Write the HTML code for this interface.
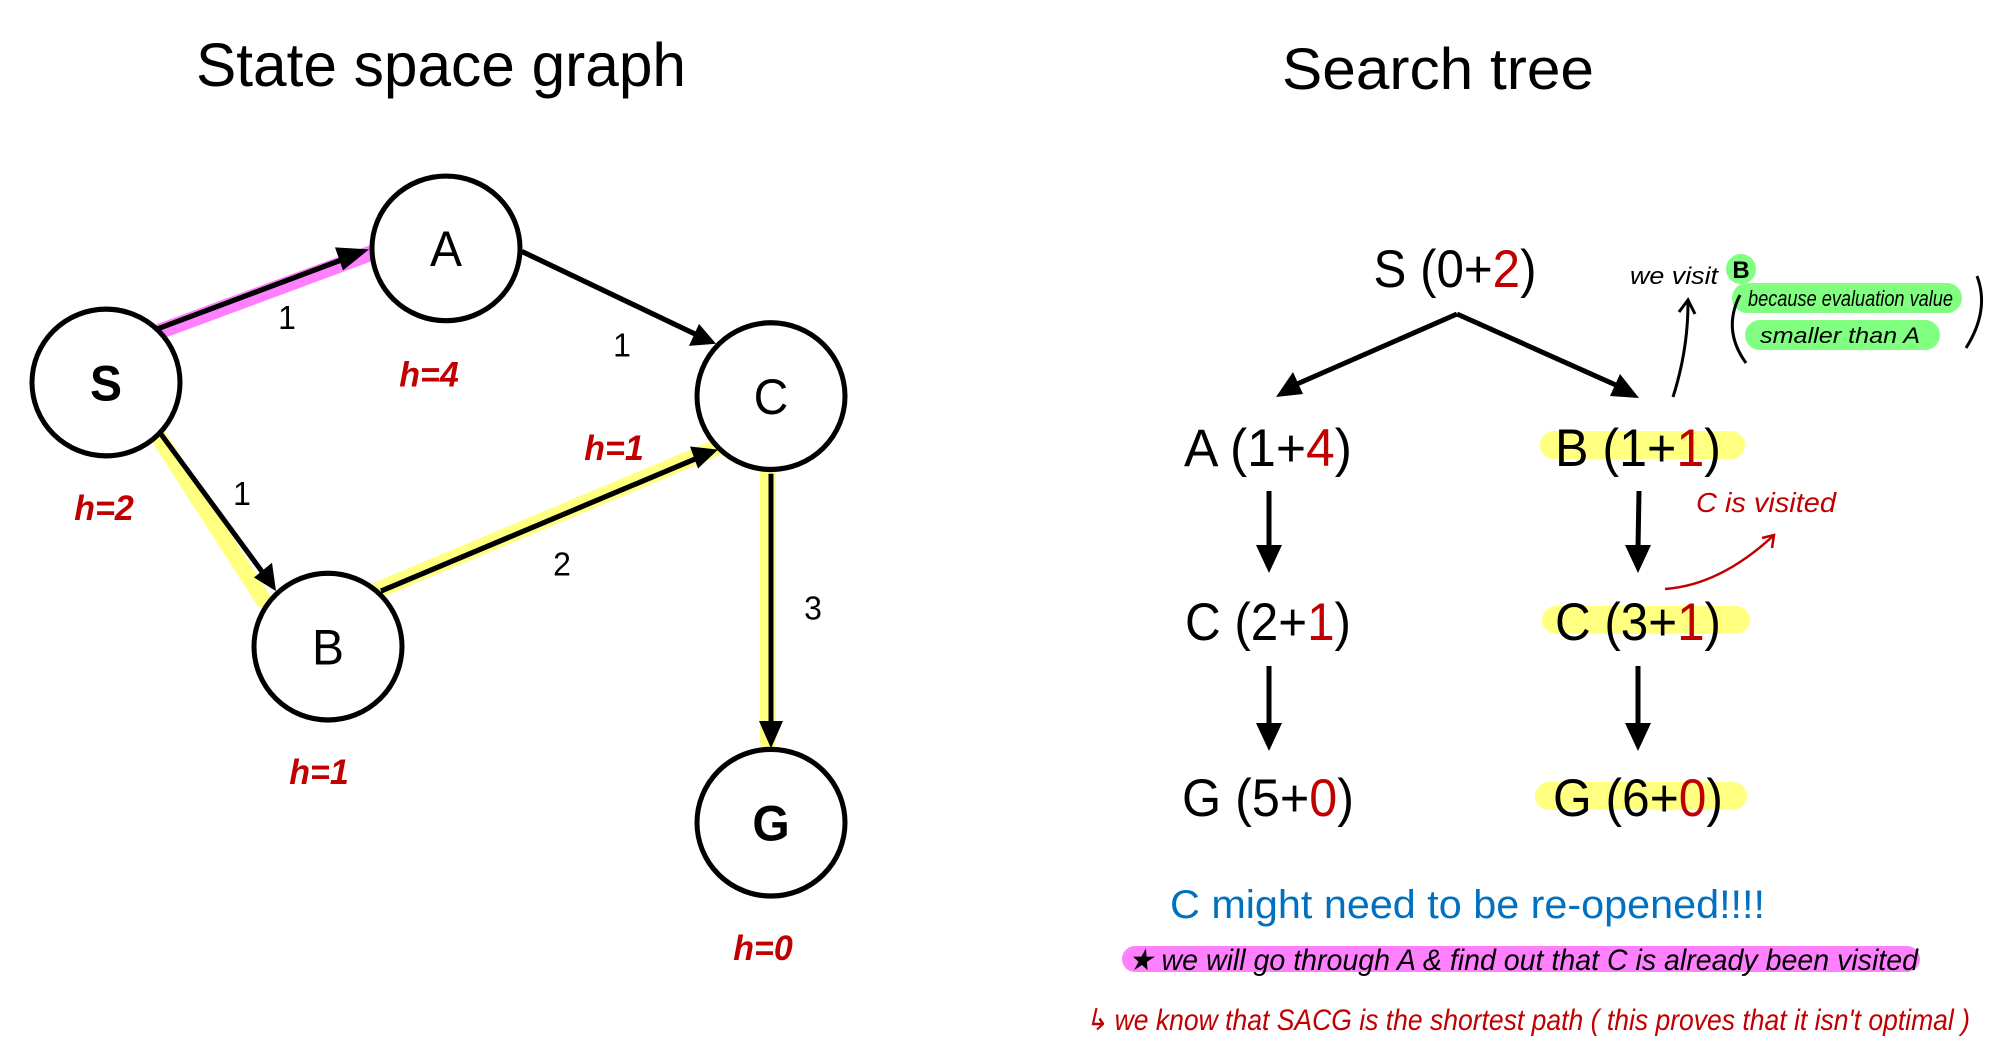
<!DOCTYPE html>
<html><head><meta charset="utf-8"><style>
html,body{margin:0;padding:0;background:#fff;}
svg{display:block;}
</style></head><body>
<svg width="2000" height="1054" viewBox="0 0 2000 1054" xmlns="http://www.w3.org/2000/svg" font-family="Liberation Sans, sans-serif">
<g transform="scale(1,1.048)">
<text x="441" y="82" font-size="58" text-anchor="middle" textLength="490" lengthAdjust="spacingAndGlyphs">State space graph</text>

<line x1="152" y1="319" x2="381" y2="238" stroke="#ff80ff" stroke-width="15" stroke-linecap="round"/>
<line x1="154" y1="410" x2="263" y2="572" stroke="#ffff80" stroke-width="16" stroke-linecap="round"/>
<line x1="378" y1="563" x2="722" y2="425" stroke="#ffff80" stroke-width="16" stroke-linecap="round"/>
<line x1="768" y1="445" x2="768" y2="708" stroke="#ffff80" stroke-width="16" stroke-linecap="round"/>

<g stroke="#000" stroke-width="5" fill="none">
<line x1="157" y1="314" x2="350" y2="245"/>
<line x1="522" y1="240" x2="700" y2="321"/>
<line x1="160" y1="413" x2="264" y2="548"/>
<line x1="381" y1="564" x2="700" y2="436"/>
<line x1="771" y1="452" x2="771" y2="690"/>
</g>
<g fill="#000">
<polygon points="369,238 343,258 335,236"/>
<polygon points="716,328 689,330 699,309"/>
<polygon points="276,564 254,551 272,537"/>
<polygon points="718,429 698,447 690,426"/>
<polygon points="771,714 759,688 783,688"/>
</g>

<g fill="#fff" stroke="#000" stroke-width="5">
<ellipse cx="106" cy="365" rx="74" ry="70"/>
<ellipse cx="446" cy="237" rx="74" ry="69"/>
<ellipse cx="771" cy="378" rx="74" ry="70"/>
<ellipse cx="328" cy="617" rx="74" ry="70"/>
<ellipse cx="771" cy="785" rx="74" ry="70"/>
</g>
<g font-size="48" text-anchor="middle">
<text x="106" y="382" font-weight="bold">S</text>
<text x="446" y="254">A</text>
<text x="771" y="395">C</text>
<text x="328" y="634">B</text>
<text x="771" y="802" font-weight="bold">G</text>
</g>
<g font-size="34" font-weight="bold" font-style="italic" fill="#c00000" text-anchor="middle">
<text x="429" y="369">h=4</text>
<text x="104" y="496">h=2</text>
<text x="319" y="748">h=1</text>
<text x="614" y="439">h=1</text>
<text x="763" y="916">h=0</text>
</g>
<g font-size="32" text-anchor="middle">
<text x="287" y="314">1</text>
<text x="622" y="340">1</text>
<text x="242" y="482">1</text>
<text x="562" y="549">2</text>
<text x="813" y="591">3</text>
</g>
</g>

<text x="1438" y="89" font-size="58" text-anchor="middle" textLength="312" lengthAdjust="spacingAndGlyphs">Search tree</text>

<g fill="#ffff80">
<rect x="1540" y="431" width="205" height="28" rx="14"/>
<rect x="1542" y="606" width="208" height="28" rx="14"/>
<rect x="1535" y="782" width="212" height="28" rx="14"/>
</g>
<g stroke="#000" stroke-width="5" fill="none">
<line x1="1457" y1="314" x2="1297" y2="384"/>
<line x1="1457" y1="314" x2="1618" y2="386"/>
<line x1="1269" y1="491" x2="1269" y2="548"/>
<line x1="1269" y1="666" x2="1269" y2="725"/>
<line x1="1639" y1="491" x2="1638" y2="548"/>
<line x1="1638" y1="666" x2="1638" y2="725"/>
</g>
<g fill="#000">
<polygon points="1276,397 1293,372 1303,394"/>
<polygon points="1639,398 1610,396 1620,374"/>
<polygon points="1269,573 1256,545 1282,545"/>
<polygon points="1269,751 1256,723 1282,723"/>
<polygon points="1638,573 1625,545 1651,545"/>
<polygon points="1638,751 1625,723 1651,723"/>
</g>
<g font-size="53" text-anchor="middle">
<text x="1455" y="287" textLength="163" lengthAdjust="spacingAndGlyphs">S (0+<tspan fill="#c00000">2</tspan>)</text>
<text x="1268" y="466" textLength="168" lengthAdjust="spacingAndGlyphs">A (1+<tspan fill="#c00000">4</tspan>)</text>
<text x="1638" y="466" textLength="166" lengthAdjust="spacingAndGlyphs">B (1+<tspan fill="#c00000">1</tspan>)</text>
<text x="1268" y="640" textLength="166" lengthAdjust="spacingAndGlyphs">C (2+<tspan fill="#c00000">1</tspan>)</text>
<text x="1638" y="640" textLength="166" lengthAdjust="spacingAndGlyphs">C (3+<tspan fill="#c00000">1</tspan>)</text>
<text x="1268" y="816" textLength="172" lengthAdjust="spacingAndGlyphs">G (5+<tspan fill="#c00000">0</tspan>)</text>
<text x="1638" y="816" textLength="170" lengthAdjust="spacingAndGlyphs">G (6+<tspan fill="#c00000">0</tspan>)</text>
</g>

<circle cx="1741" cy="269" r="15" fill="#80ff80"/>
<text x="1630" y="284" font-size="24" font-style="italic" textLength="88" lengthAdjust="spacingAndGlyphs">we visit</text>
<text x="1741" y="278" font-size="24" font-weight="bold" text-anchor="middle">B</text>
<rect x="1732" y="283" width="230" height="30" rx="15" fill="#80ff80"/>
<rect x="1745" y="320" width="195" height="30" rx="15" fill="#80ff80"/>
<text x="1748" y="306" font-size="22" font-style="italic" textLength="205" lengthAdjust="spacingAndGlyphs">because evaluation value</text>
<text x="1760" y="343" font-size="22" font-style="italic" textLength="160" lengthAdjust="spacingAndGlyphs">smaller than A</text>
<path d="M1740,295 Q1722,330 1746,363" stroke="#000" stroke-width="3" fill="none"/>
<path d="M1977,276 Q1990,310 1966,348" stroke="#000" stroke-width="3" fill="none"/>
<path d="M1673,397 Q1688,350 1688,303" stroke="#000" stroke-width="3" fill="none"/>
<path d="M1679,312 L1688,300 L1695,314" stroke="#000" stroke-width="3" fill="none"/>

<text x="1696" y="512" font-size="28" font-style="italic" fill="#c00000" textLength="140" lengthAdjust="spacingAndGlyphs">C is visited</text>
<path d="M1665,589 Q1720,585 1773,536" stroke="#c00000" stroke-width="2.5" fill="none"/>
<path d="M1762,538 L1774,535 L1772,548" stroke="#c00000" stroke-width="2.5" fill="none"/>

<text x="1170" y="918" font-size="40" fill="#0070c0" textLength="595" lengthAdjust="spacingAndGlyphs">C might need to be re-opened!!!!</text>
<rect x="1122" y="946" width="798" height="26" rx="13" fill="#ff80ff"/>
<text x="1128" y="970" font-size="30" font-style="italic" textLength="790" lengthAdjust="spacingAndGlyphs">★ we will go through A &amp; find out that C is already been visited</text>
<text x="1085" y="1030" font-size="30" font-style="italic" fill="#c00000" textLength="885" lengthAdjust="spacingAndGlyphs">↳ we know that SACG is the shortest path ( this proves that it isn't optimal )</text>
</svg>
</body></html>
